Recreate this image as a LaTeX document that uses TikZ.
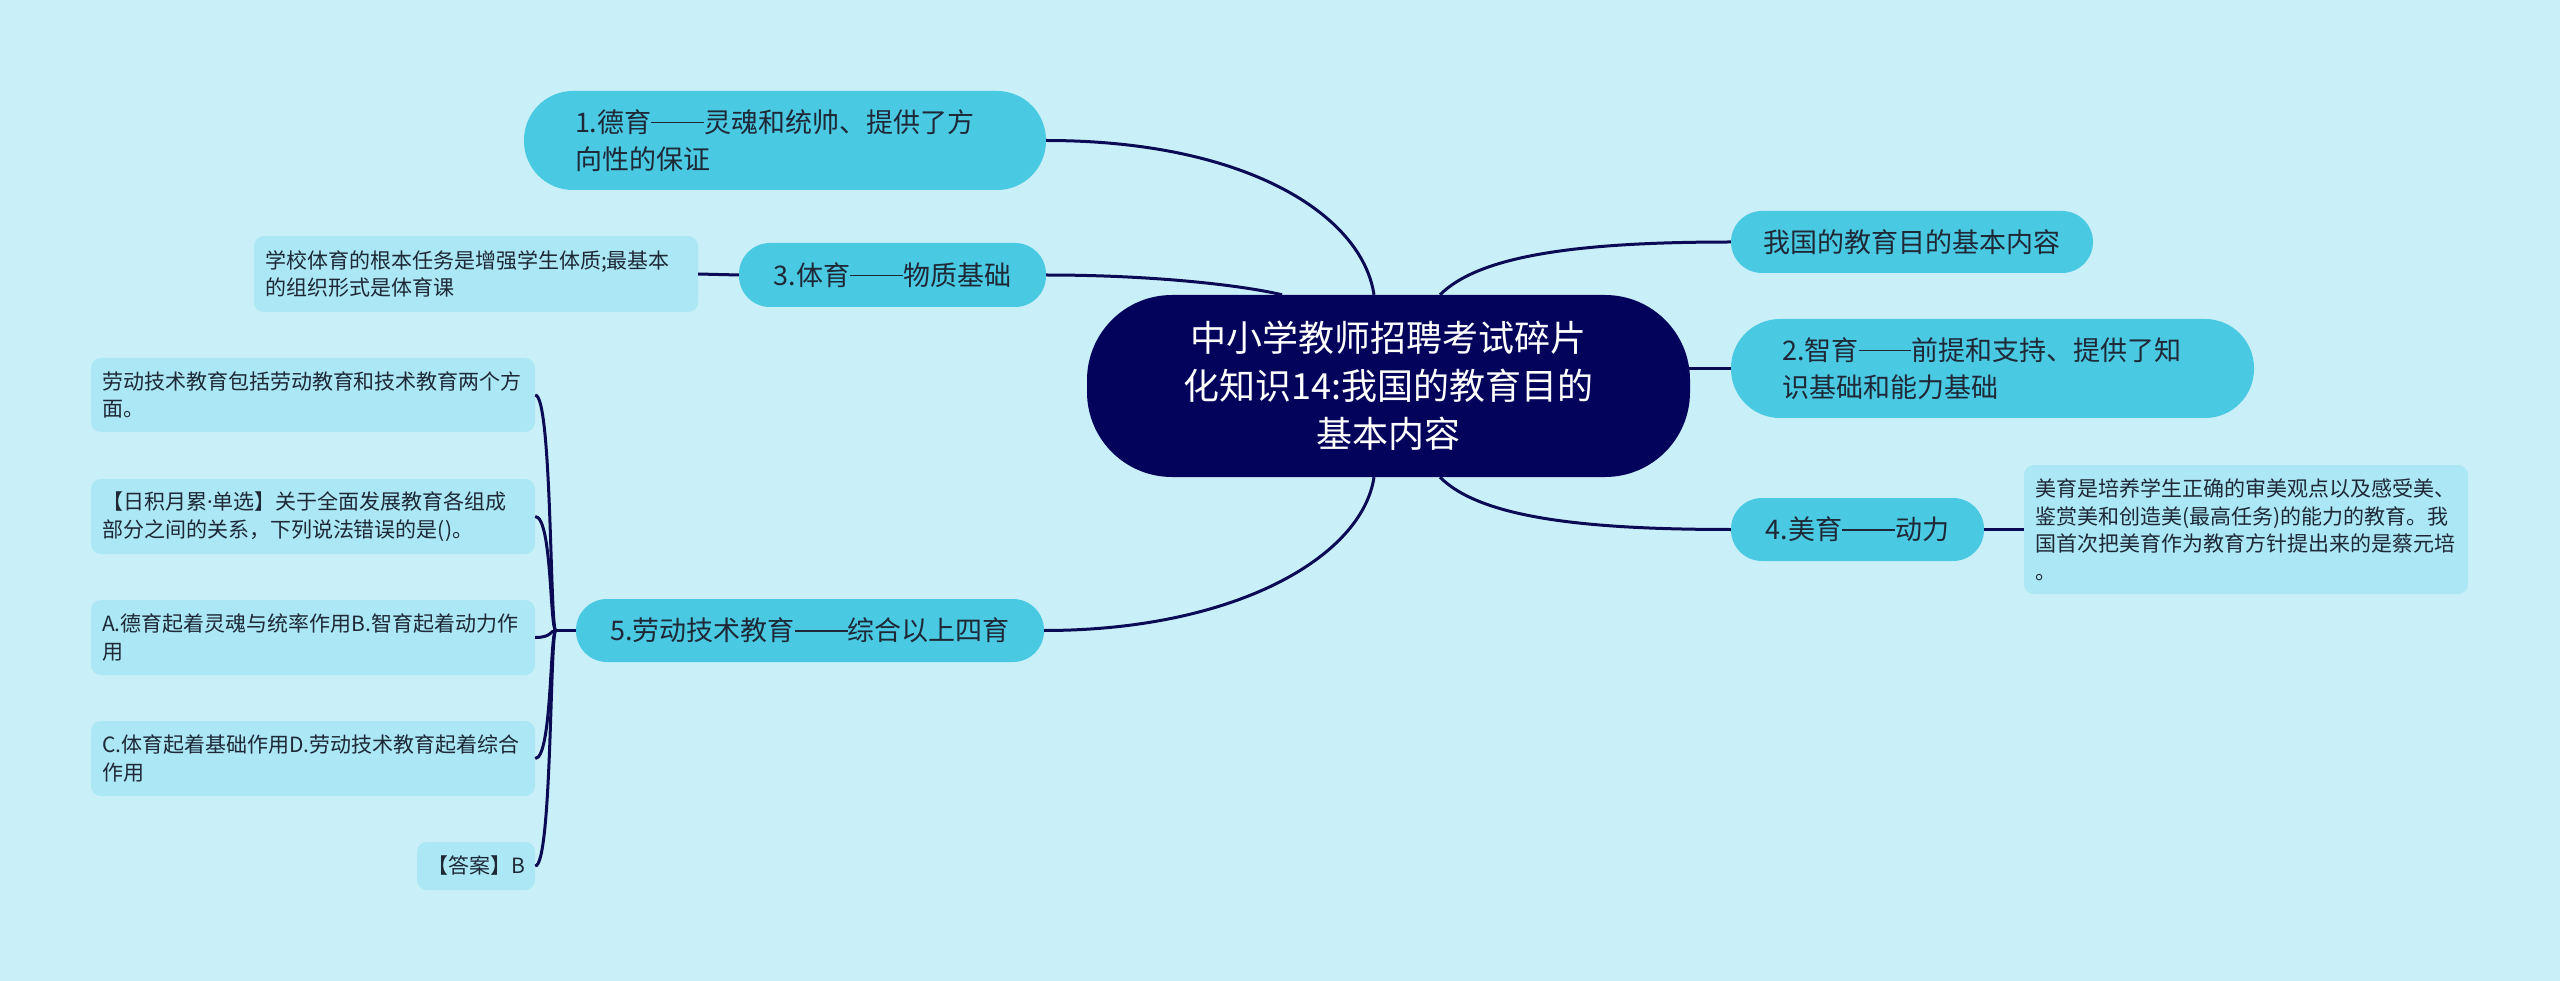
\documentclass[tikz,border=0pt]{standalone}
\usepackage{fontspec}
\setmainfont{Noto Sans CJK SC}
\newfontfamily\latinf{Noto Sans}
\newcommand{\ddash}{\rule[0.33em]{1.95em}{0.06em}}
\newcommand{\mdot}{{\latinf ·}}
\usetikzlibrary{calc}
\definecolor{bgc}{HTML}{C9F0F8}
\definecolor{mainc}{HTML}{4AC9E3}
\definecolor{leafc}{HTML}{ABE7F4}
\definecolor{darkc}{HTML}{03035B}
\definecolor{linec}{HTML}{0A0A55}
\definecolor{txtc}{HTML}{1E2836}
\begin{document}
\begin{tikzpicture}[x=1pt,y=-1pt,
  mainbox/.style={fill=mainc, draw=none, text=txtc, inner sep=0pt, font=\fontsize{27}{37}\selectfont},
  leafbox/.style={fill=leafc, draw=none, rounded corners=10pt, text=txtc, inner ysep=0pt, inner xsep=11pt, text width=422pt, minimum width=444pt, align=left, font=\fontsize{21}{27.5}\selectfont},
  conn/.style={draw=linec, line width=3pt}]
\useasboundingbox (0,0) rectangle (2560,981);
\fill[bgc] (0,0) rectangle (2560,981);

% central node
\node[fill=darkc, rounded corners=85pt, minimum width=603pt, minimum height=182pt, inner sep=0pt, align=center, text=white, font=\fontsize{36}{48}\selectfont] (c) at (1388.5,386) {中小学教师招聘考试碎片\\化知识14:我国的教育目的\\基本内容};

% main branches
\node[mainbox, rounded corners=49pt, minimum width=522pt, minimum height=99pt, text width=420pt, inner xsep=51pt, align=left] (n1) at (785,140.5) {1.德育\ddash 灵魂和统帅、提供了方\\向性的保证};
\node[mainbox, rounded corners=31pt, minimum width=307pt, minimum height=64pt, align=center] (n3) at (892.5,275) {3.体育\ddash 物质基础};
\node[mainbox, rounded corners=31pt, minimum width=468pt, minimum height=63pt, align=center] (n5) at (810,630.5) {5.劳动技术教育\ddash 综合以上四育};
\node[mainbox, rounded corners=31pt, minimum width=362pt, minimum height=62pt, align=center] (r1) at (1912,242) {我国的教育目的基本内容};
\node[mainbox, rounded corners=49pt, minimum width=523pt, minimum height=99pt, text width=421pt, inner xsep=51pt, align=left] (n2) at (1992.5,368.5) {2.智育\ddash 前提和支持、提供了知\\识基础和能力基础};
\node[mainbox, rounded corners=31pt, minimum width=253pt, minimum height=63pt, align=center] (n4) at (1857.5,529.5) {4.美育\ddash 动力};

% leaves
\node[leafbox, minimum height=76pt] (L3) at (476,274) {学校体育的根本任务是增强学生体质;最基本\\的组织形式是体育课};
\node[leafbox, minimum height=129pt] (L4) at (2246,529.5) {美育是培养学生正确的审美观点以及感受美、\\鉴赏美和创造美(最高任务)的能力的教育。我\\国首次把美育作为教育方针提出来的是蔡元培\\。};
\node[leafbox, minimum height=74pt] (La) at (313,395) {劳动技术教育包括劳动教育和技术教育两个方\\面。};
\node[leafbox, minimum height=75pt] (Lb) at (313,516.5) {【日积月累\mdot 单选】关于全面发展教育各组成\\部分之间的关系，下列说法错误的是()。};
\node[leafbox, minimum height=75pt] (Lc) at (313,637.5) {A.德育起着灵魂与统率作用B.智育起着动力作\\用};
\node[leafbox, minimum height=75pt] (Ld) at (313,758.5) {C.体育起着基础作用D.劳动技术教育起着综合\\作用};
\node[leafbox, text width=, minimum width=118pt, minimum height=48pt, inner xsep=0pt, align=center] (Le) at (476,866) {【答案】B};

% anchor points on the central node
\coordinate (ct3) at ($(c.north)+(-106.5,0)$);
\coordinate (ct2) at ($(c.north)+(-14.5,0)$);
\coordinate (ct1) at ($(c.north)+(51.5,0)$);
\coordinate (cb2) at ($(c.south)+(-14.5,0)$);
\coordinate (cb1) at ($(c.south)+(51.5,0)$);
\coordinate (ce) at (c.east |- n2.west);

% connectors from centre
\draw[conn] (n1.east) .. controls ($(n1.east)+(200,0)$) and ($(ct2)+(-12,-80)$) .. (ct2);
\draw[conn] (n3.east) .. controls ($(n3.east)+(104,0)$) and ($(ct3)+(-42,-10)$) .. (ct3);
\draw[conn] (n5.east) .. controls ($(n5.east)+(190,0)$) and ($(cb2)+(-12,80)$) .. (cb2);
\draw[conn] (ct1) .. controls ($(ct1)+(40,-40)$) and ($(r1.west)+(-150,0)$) .. (r1.west);
\draw[conn] ($(ce)+(-3,0)$) -- (n2.west);
\draw[conn] (cb1) .. controls ($(cb1)+(40,40)$) and ($(n4.west)+(-150,0)$) .. (n4.west);

% leaf connectors
\draw[conn] (n3.west) -- (L3.east);
\draw[conn] (n4.east) -- (L4.west);
\coordinate (J) at ($(n5.west)+(-20,0)$);
\draw[conn] (n5.west) -- (J);
\foreach \l in {La,Lb,Lc,Ld,Le}
  \draw[conn] (J) .. controls ($(J)+(-6,0)$) and ($(\l.east)+(17,0)$) .. (\l.east);
\end{tikzpicture}
\end{document}
